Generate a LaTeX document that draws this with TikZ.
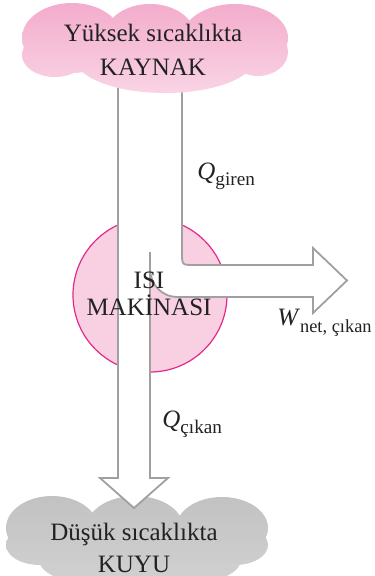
\documentclass[tikz,border=0pt]{standalone}
\usepackage{fontspec}
\setmainfont{Liberation Serif}
\usepackage{tikz}
\usetikzlibrary{positioning}
\usepackage{xcolor}
\definecolor{bulutust}{RGB}{243,172,204}
\definecolor{bulutalt}{RGB}{249,212,228}
\definecolor{griust}{RGB}{194,194,194}
\definecolor{grialt}{RGB}{210,210,210}
\definecolor{motordolgu}{RGB}{248,208,226}
\definecolor{motorcizgi}{RGB}{228,40,138}
\definecolor{okgri}{RGB}{160,160,160}
\definecolor{yazirengi}{RGB}{34,34,34}

\begin{document}
\begin{tikzpicture}[x=0.5pt,y=-0.5pt,
  yazi/.style={font=\fontsize{12.5}{15}\selectfont,text=yazirengi,inner sep=0pt,anchor=base},
  etiket/.style={font=\fontsize{12.5}{15}\selectfont,text=yazirengi,inner sep=0pt,anchor=base west},
  motor/.style={circle,draw=motorcizgi,fill=motordolgu,line width=0.6pt,minimum size=77pt,inner sep=0pt},
  ok/.style={draw=okgri,fill=white,line width=0.9pt}]
\useasboundingbox (0,0) rectangle (374,576);
\clip (0,0) rectangle (374,576);
% soguk kuyu
\shade[top color=griust,bottom color=grialt]
  (52,528) ellipse [x radius=46,y radius=32]
  (135,527) ellipse [x radius=48,y radius=31]
  (222,528) ellipse [x radius=46,y radius=31]
  (40,545) ellipse [x radius=34,y radius=20]
  (235,545) ellipse [x radius=33,y radius=20]
  (140,562) ellipse [x radius=100,y radius=28];
% isi makinasi
\node[motor] (motor) at (150,295) {};
% isi akisi
\draw[ok] (118,80) -- (118,478) -- (100,478) -- (134,508) -- (168,478) -- (150,478)
  -- (150,268) .. controls (150,284) and (161,297) .. (178,297) -- (313,297) -- (313,313)
  -- (347,280.5) -- (313,248) -- (313,265) -- (194,265) .. controls (182,265) .. (182,253)
  -- (182,80) -- cycle;
\draw[okgri,line width=0.9pt] (150,252) -- (150,268);
% sicak kaynak
\shade[top color=bulutust,bottom color=bulutalt]
  (72,38) ellipse [x radius=50,y radius=35]
  (150,36) ellipse [x radius=45,y radius=32]
  (235,38) ellipse [x radius=53,y radius=34]
  (55,55) ellipse [x radius=33,y radius=22]
  (258,52) ellipse [x radius=30,y radius=24]
  (165,58) ellipse [x radius=90,y radius=35];
\node[yazi] (sicak) at (153,42) {Yüksek sıcaklıkta};
\node[yazi] (kaynak) at (153,76) {KAYNAK};
\node[yazi] (isi) at (149,288) {ISI};
\node[yazi] (makina) at (149,315) {MAKİNASI};
\node[yazi] (soguk) at (134,540) {Düşük sıcaklıkta};
\node[yazi] (kuyu) at (134,572) {KUYU};
\node[etiket] (qgiren) at (197,180) {\textit{Q}\raisebox{-3pt}{\fontsize{9.6}{11}\selectfont giren}};
\node[etiket] (wnet) at (277,325) {\textit{W}\raisebox{-3.5pt}{\fontsize{9.2}{11}\selectfont net, çıkan}};
\node[etiket] (qcikan) at (162,427) {\textit{Q}\raisebox{-3pt}{\fontsize{9.6}{11}\selectfont çıkan}};
\end{tikzpicture}
\end{document}
